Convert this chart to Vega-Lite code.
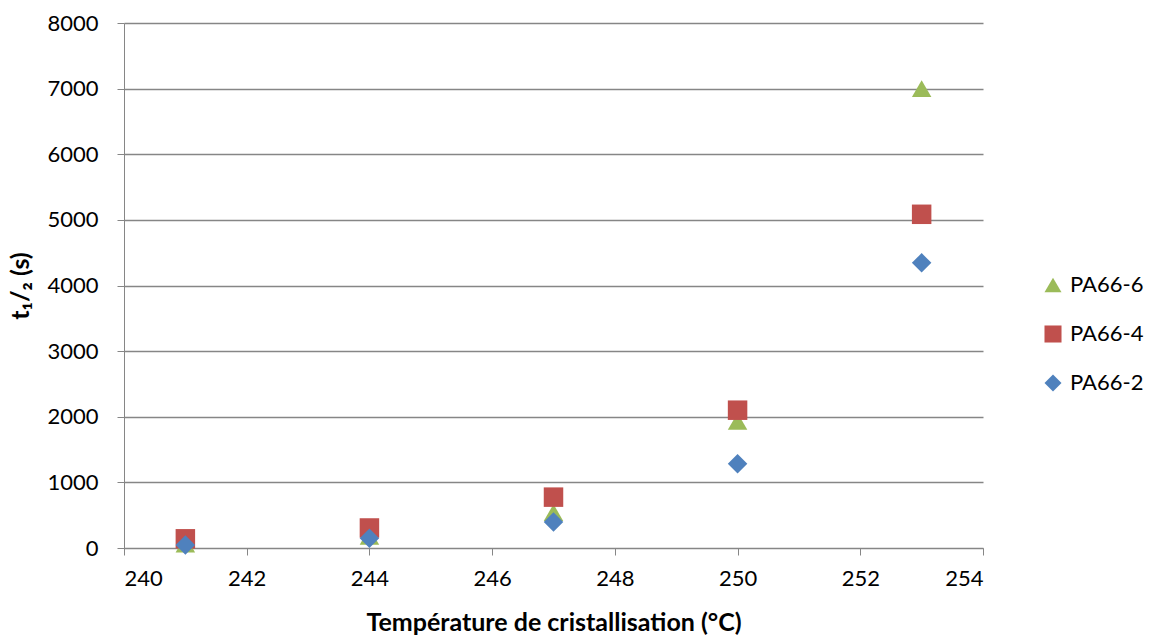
{
  "$schema": "https://vega.github.io/schema/vega-lite/v6.json",
  "width": 859,
  "height": 525,
  "autosize": {"type": "none"},
  "padding": {"left": 124, "top": 23, "right": 170, "bottom": 88},
  "background": "white",
  "config": {
    "view": {"stroke": null},
    "font": "Lato",
    "axis": {"labelFont": "Lato", "titleFont": "Lato", "labelColor": "#000", "titleColor": "#000"}
  },
  "data": {
    "values": [
      {"serie": "PA66-6", "T": 241, "t": 60},
      {"serie": "PA66-6", "T": 244, "t": 180},
      {"serie": "PA66-6", "T": 247, "t": 540},
      {"serie": "PA66-6", "T": 250, "t": 1930},
      {"serie": "PA66-6", "T": 253, "t": 7000},
      {"serie": "PA66-4", "T": 241, "t": 140},
      {"serie": "PA66-4", "T": 244, "t": 305},
      {"serie": "PA66-4", "T": 247, "t": 775},
      {"serie": "PA66-4", "T": 250, "t": 2100},
      {"serie": "PA66-4", "T": 253, "t": 5085},
      {"serie": "PA66-2", "T": 241, "t": 45},
      {"serie": "PA66-2", "T": 244, "t": 150},
      {"serie": "PA66-2", "T": 247, "t": 395},
      {"serie": "PA66-2", "T": 250, "t": 1285},
      {"serie": "PA66-2", "T": 253, "t": 4345}
    ]
  },
  "mark": {"type": "point", "filled": true, "opacity": 1, "strokeWidth": 0, "size": 380},
  "encoding": {
    "x": {
      "field": "T", "type": "quantitative",
      "scale": {"domain": [240, 254], "nice": false, "zero": false},
      "axis": {
        "title": "Température de cristallisation (°C)",
        "values": [240, 242, 244, 246, 248, 250, 252, 254],
        "format": "d",
        "grid": false,
        "domainColor": "#868686", "tickColor": "#868686", "tickSize": 7,
        "labelFontSize": 22, "labelPadding": 13,
        "titleFontSize": 25, "titleFontWeight": "bold", "titlePadding": 21
      }
    },
    "y": {
      "field": "t", "type": "quantitative",
      "scale": {"domain": [0, 8000], "nice": false},
      "axis": {
        "title": "t₁/₂ (s)",
        "values": [0, 1000, 2000, 3000, 4000, 5000, 6000, 7000, 8000],
        "format": "d",
        "grid": true, "gridColor": "#868686", "gridWidth": 1.3,
        "domainColor": "#868686", "tickColor": "#868686", "tickSize": 7,
        "labelFontSize": 22, "labelPadding": 19,
        "titleFontSize": 25, "titleFontWeight": "bold", "titlePadding": 13
      }
    },
    "color": {
      "field": "serie", "type": "nominal",
      "scale": {"domain": ["PA66-6", "PA66-4", "PA66-2"], "range": ["#9BBB59", "#C0504D", "#4F81BD"]},
      "legend": {
        "title": null, "orient": "none", "legendX": 918, "legendY": 251,
        "labelFontSize": 22, "labelFont": "Lato", "labelColor": "#000",
        "symbolSize": 290, "rowPadding": 27, "labelOffset": 6
      }
    },
    "shape": {
      "field": "serie", "type": "nominal",
      "scale": {"domain": ["PA66-6", "PA66-4", "PA66-2"], "range": ["triangle-up", "square", "diamond"]}
    }
  }
}
